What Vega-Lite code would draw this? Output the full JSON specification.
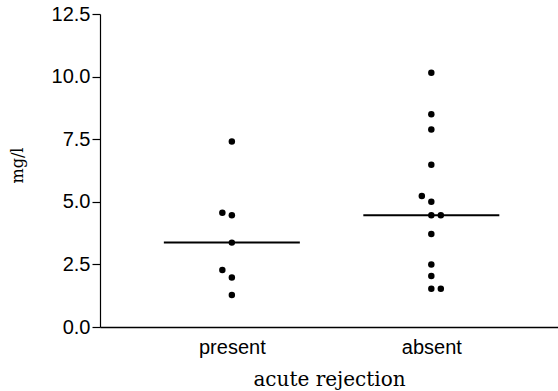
{
  "$schema": "https://vega.github.io/schema/vega-lite/v6.json",
  "width": 458,
  "height": 313,
  "autosize": {"type": "none"},
  "padding": {"left": 100, "top": 14, "right": 0, "bottom": 64},
  "background": "white",
  "config": {"view": {"stroke": null}},
  "data": {"values": [
    {"group": "present", "slot": "C", "value": 7.41},
    {"group": "present", "slot": "L", "value": 4.56},
    {"group": "present", "slot": "C", "value": 4.46},
    {"group": "present", "slot": "C", "value": 3.37},
    {"group": "present", "slot": "L", "value": 2.28},
    {"group": "present", "slot": "C", "value": 1.98},
    {"group": "present", "slot": "C", "value": 1.28},
    {"group": "absent", "slot": "C", "value": 10.15},
    {"group": "absent", "slot": "C", "value": 8.5},
    {"group": "absent", "slot": "C", "value": 7.89},
    {"group": "absent", "slot": "C", "value": 6.48},
    {"group": "absent", "slot": "L", "value": 5.23},
    {"group": "absent", "slot": "C", "value": 5.0},
    {"group": "absent", "slot": "C", "value": 4.46},
    {"group": "absent", "slot": "R", "value": 4.46},
    {"group": "absent", "slot": "C", "value": 3.71},
    {"group": "absent", "slot": "C", "value": 2.5},
    {"group": "absent", "slot": "C", "value": 2.04},
    {"group": "absent", "slot": "C", "value": 1.53},
    {"group": "absent", "slot": "R", "value": 1.53}
  ]},
  "encoding": {
    "x": {
      "field": "group", "type": "nominal",
      "scale": {"type": "point", "domain": ["present", "absent"], "padding": 0.648, "align": 0.51},
      "axis": {
        "title": "acute rejection",
        "titleFont": "DejaVu Serif", "titleFontSize": 20, "titleFontWeight": "normal", "titleColor": "black",
        "titlePadding": 12,
        "labelFont": "Liberation Sans", "labelFontSize": 20, "labelColor": "black", "labelAngle": 0,
        "labelPadding": 10,
        "ticks": false, "domainColor": "black", "domainWidth": 1.5, "grid": false
      }
    },
    "y": {
      "field": "value", "type": "quantitative",
      "scale": {"domain": [0, 12.5], "nice": false, "zero": true},
      "axis": {
        "title": "mg/l",
        "titleFont": "DejaVu Serif", "titleFontSize": 16, "titleFontWeight": "normal", "titleColor": "black",
        "titlePadding": 26, "titleY": 151,
        "values": [0, 2.5, 5, 7.5, 10, 12.5], "format": ".1f",
        "labelFont": "Liberation Sans", "labelFontSize": 20, "labelColor": "black", "labelPadding": 2,
        "tickColor": "black", "tickSize": 8, "tickWidth": 1.2,
        "domainColor": "black", "domainWidth": 1.2, "grid": false
      }
    }
  },
  "layer": [
    {
      "mark": {"type": "circle", "color": "black", "opacity": 1, "size": 42},
      "encoding": {
        "xOffset": {"field": "slot", "type": "nominal", "scale": {"type": "point", "domain": ["L", "C", "R"], "range": [-9.5, 9.5], "padding": 0}}
      }
    },
    {
      "mark": {"type": "tick", "orient": "horizontal", "color": "black", "size": 136, "thickness": 2},
      "encoding": {
        "y": {"aggregate": "median", "field": "value", "type": "quantitative"}
      }
    }
  ]
}
